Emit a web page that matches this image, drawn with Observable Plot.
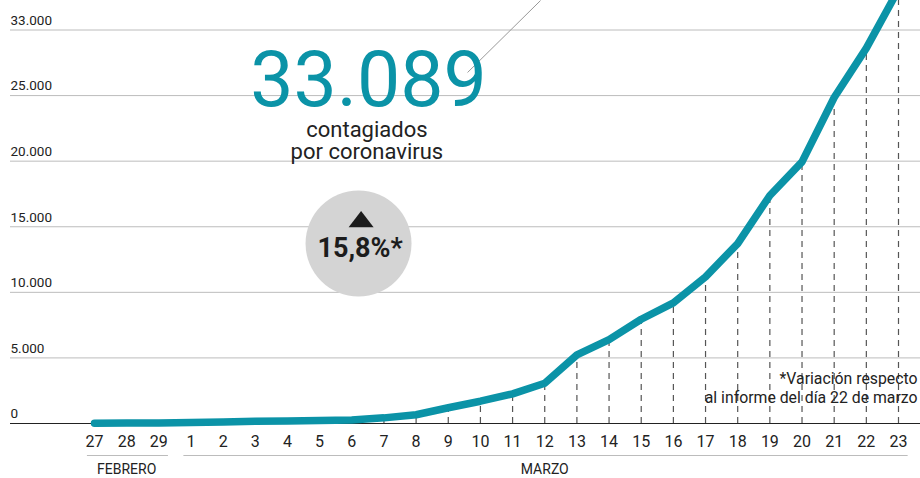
<!DOCTYPE html>
<html>
<head>
<meta charset="utf-8">
<script src="https://cdn.jsdelivr.net/npm/d3@7"></script>
<script src="https://cdn.jsdelivr.net/npm/@observablehq/plot@0.6"></script>
<style>
  html, body { margin: 0; padding: 0; background: #fff; }
  #chart { width: 920px; height: 478px; overflow: hidden; }
</style>
</head>
<body>
<div id="chart"></div>
<script>
// ---- Data ----
const dayLabels = ["27","28","29","1","2","3","4","5","6","7","8","9","10","11","12","13","14","15","16","17","18","19","20","21","22","23"];
const cases = [23, 32, 45, 84, 120, 165, 200, 230, 260, 430, 670, 1200, 1700, 2260, 3070, 5230, 6390, 7950, 9190, 11180, 13720, 17380, 19950, 24850, 28620, 33089];
const yTicks = [0, 5000, 10000, 15000, 20000, 25000, 30000];
const yTickLabels = ["0", "5.000", "10.000", "15.000", "20.000", "25.000", "33.000"];
const monthNames = ["FEBRERO", "MARZO"];
const monthFirst = [0, 3];
const monthLast = [2, 25];
const headline = "33.089";
const headlineSub = "contagiados\npor coronavirus";
const changeLabel = "15,8%*";
const noteText = "*Variación respecto\nal informe del día 22 de marzo";

const teal = "#0b93a7";
const data = cases.map((v, i) => ({i, v, label: dayLabels[i]}));
const ticks = yTicks.map((t, k) => ({t, label: yTickLabels[k]}));
const months = monthNames.map((m, k) => ({name: m, a: monthFirst[k], b: monthLast[k]}));

// custom wide triangle symbol
const wideTriangle = {
  draw(ctx, size) {
    const r = Math.sqrt(size / Math.PI);
    const h = r * 0.65;
    ctx.moveTo(0, -h);
    ctx.lineTo(r, h);
    ctx.lineTo(-r, h);
    ctx.closePath();
  }
};

const chart = Plot.plot({
  width: 920,
  height: 478,
  marginLeft: 10,
  marginRight: 0,
  marginTop: 0,
  marginBottom: 0,
  style: {fontFamily: "Roboto, 'Noto Sans', sans-serif", background: "#fff", overflow: "hidden"},
  x: {domain: [0, 25], range: [94, 898], axis: null},
  y: {domain: [0, 30000], range: [423, 29.5], axis: null},
  marks: [
    // gridlines
    Plot.ruleY(yTicks.filter(d => d > 0), {stroke: "#bcbcbc", strokeWidth: 1}),
    // y tick labels
    Plot.text(ticks, {y: "t", text: "label", frameAnchor: "left", textAnchor: "start", dy: -9.5, fontSize: 13.5, fill: "#222"}),
    // dashed drop lines
    Plot.ruleX(data, {x: "i", y1: 0, y2: "v", stroke: "#555", strokeWidth: 1.2, strokeDasharray: "6,5"}),
    // baseline
    Plot.ruleY([0], {stroke: "#222", strokeWidth: 1.2}),
    // x labels
    Plot.text(data, {x: "i", y: 0, text: "label", dy: 18, fontSize: 16, fill: "#222"}),
    // month brackets
    Plot.ruleY(months, {y: 0, x1: d => d.a - 0.22, x2: d => d.b + 0.3, dy: 32, stroke: "#bcbcbc", strokeWidth: 1}),
    Plot.text(months, {x: d => (d.a + d.b) / 2, y: 0, text: "name", dy: 46, fontSize: 14, fill: "#222"}),
    // leader line
    Plot.link([{x1: 13.87, y1: 32248, x2: 11.6, y2: 26760}], {x1: "x1", y1: "y1", x2: "x2", y2: "y2", stroke: "#999", strokeWidth: 1}),
    // headline
    Plot.text([headline], {x: 8.52, y: 24243, text: d => d, lineAnchor: "bottom", fontSize: 77, fill: teal, fontWeight: 400}),
    Plot.text([headlineSub], {x: 8.47, y: 20200, text: d => d, lineAnchor: "bottom", fontSize: 22, lineHeight: 1, fill: "#222"}),
    // change bubble
    Plot.dot([0], {x: 8.21, y: 13723, r: 53, fill: "#d4d4d4"}),
    Plot.dot([0], {x: 8.29, y: 15590, r: 12.5, symbol: wideTriangle, fill: "#1c1c1c"}),
    Plot.text([changeLabel], {x: 8.26, y: 12731, text: d => d, lineAnchor: "bottom", fontSize: 27, fontWeight: 700, fill: "#1c1c1c"}),
    // footnote
    Plot.text([noteText], {x: 25.59, y: 1601, text: d => d, textAnchor: "end", lineAnchor: "bottom", fontSize: 15.8, lineHeight: 1.2, fill: "#222"}),
    // line
    Plot.line(data, {x: "i", y: "v", stroke: teal, strokeWidth: 7.5, strokeLinecap: "round", strokeLinejoin: "round"})
  ]
});
document.getElementById("chart").appendChild(chart);
</script>
</body>
</html>
